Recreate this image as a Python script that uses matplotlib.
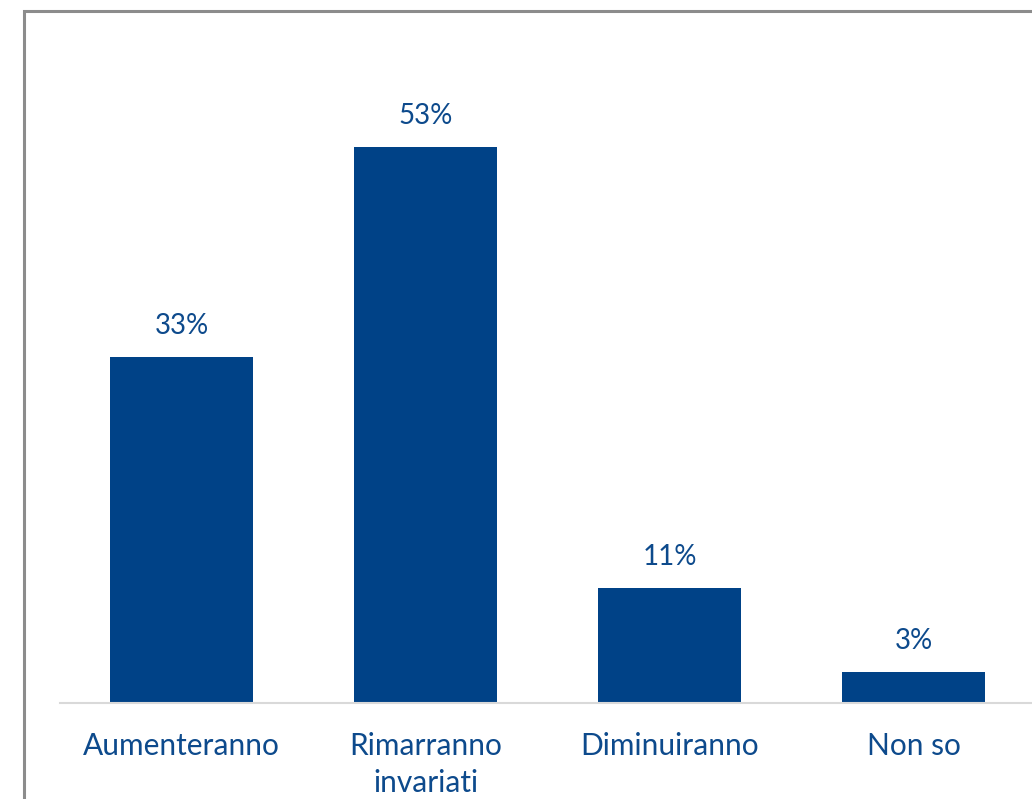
import matplotlib.pyplot as plt
from matplotlib.patches import Rectangle

categories = ['Aumenteranno', 'Rimarranno\ninvariati', 'Diminuiranno', 'Non so']
values = [33, 53, 11, 3]
labels = ['33%', '53%', '11%', '3%']

bar_color = '#004287'
text_color = '#0D4A8C'

plt.rcParams['font.family'] = ['Lato', 'DejaVu Sans']

W, H = 1032, 799
fig = plt.figure(figsize=(W / 100, H / 100), dpi=100)

# axes placed in pixel terms: baseline at y=703, x range -0.5..3.5 spans 59.5..1035.5
ax = fig.add_axes([59.5 / W, (H - 703) / H, 976 / W, 630 / H])
x = range(len(categories))
ax.bar(x, values, width=143 / 244, color=bar_color, zorder=2)
ax.set_xlim(-0.5, 3.5)
ax.set_ylim(0, 60)

for xi, v, lab in zip(x, values, labels):
    ax.annotate(lab, (xi, v), xytext=(0, 22), textcoords='offset points',
                ha='center', va='center', fontsize=20, color=text_color)

for s in ['top', 'right', 'left']:
    ax.spines[s].set_visible(False)
ax.spines['bottom'].set_color('#D9D9D9')
ax.spines['bottom'].set_linewidth(1.5)
ax.set_yticks([])
ax.set_xticks(list(x))
ax.set_xticklabels(categories, fontsize=21.5, color=text_color, linespacing=1.38)
ax.tick_params(axis='x', length=0, pad=21)

# outer chart border (cropped at right and bottom)
fig.patches.append(Rectangle((23.5 / W, -0.1), 1.2, (H - 11) / H + 0.1,
                             transform=fig.transFigure, fill=False,
                             edgecolor='#8C8C8C', linewidth=2.2))

fig.savefig('out.png', dpi=100)
